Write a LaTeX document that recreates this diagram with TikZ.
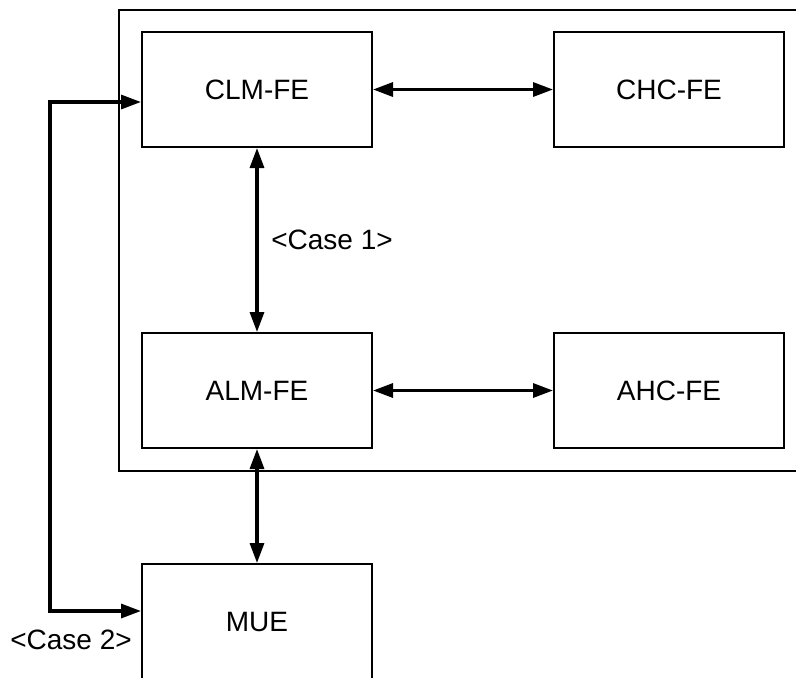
\documentclass[tikz,border=0pt]{standalone}
\usepackage{fontspec}
\setmainfont{Liberation Sans}
\usetikzlibrary{arrows.meta}
\tikzset{
  fe/.style={draw,line width=1pt,minimum width=115pt,minimum height=57.5pt,
             inner sep=0pt,font=\fontsize{14}{17}\selectfont},
  link/.style={line width=1.6pt,{Triangle[length=10pt,width=7pt]}-{Triangle[length=10pt,width=7pt]}},
  note/.style={font=\fontsize{14}{17}\selectfont}
}
\begin{document}
\begin{tikzpicture}[x=0.5pt,y=-0.5pt]
   \useasboundingbox (0,0) rectangle (796,677);
   \draw[line width=1pt] (119,10) rectangle (810,471);
   \node[fe] (clm) at (257,89.5)  {CLM-FE};
   \node[fe] (chc) at (669,89.5)  {CHC-FE};
   \node[fe] (alm) at (257,390.5) {ALM-FE};
   \node[fe] (ahc) at (669,390.5) {AHC-FE};
   \node[fe] (mue) at (257,621.5) {MUE};
   \coordinate (up)   at (50,102);
   \coordinate (down) at (50,611);
   \draw[link] (clm.east) -- (chc.west);
   \draw[link] (alm.east) -- (ahc.west);
   \draw[link] (clm.south) -- (alm.north);
   \draw[link] (alm.south) -- (mue.north);
   \draw[link] (clm.west |- up) -- (up) -- (down) -- (mue.west |- down);
   \node[note] (case1) at (332,240) {<Case 1>};
   \node[note] (case2) at (71,640)  {<Case 2>};
\end{tikzpicture}
\end{document}
